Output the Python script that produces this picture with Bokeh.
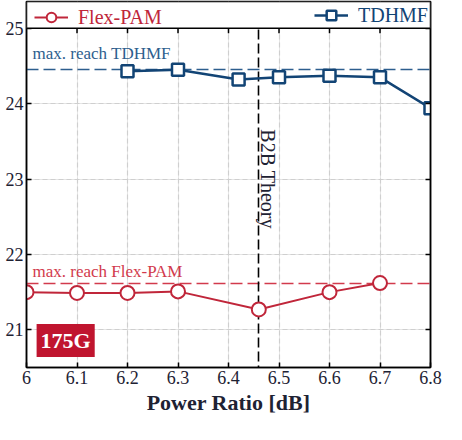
import math
from bokeh.plotting import figure
from bokeh.models import (Range1d, LinearAxis, FixedTicker, NumeralTickFormatter, Legend,
                          LegendItem, Label, Grid, BoxAnnotation)
from bokeh.embed import file_html
from bokeh.resources import INLINE

# ---------------- data ----------------
power_ratio_flex = [6.0, 6.1, 6.2, 6.3, 6.46, 6.6, 6.7]
reach_flex = [21.50, 21.49, 21.49, 21.51, 21.27, 21.50, 21.62]
power_ratio_tdhmf = [6.2, 6.3, 6.42, 6.5, 6.6, 6.7, 6.8]
reach_tdhmf = [24.43, 24.45, 24.32, 24.35, 24.37, 24.35, 23.94]
max_reach_flex = 21.62
max_reach_tdhmf = 24.46
b2b_theory = 6.46
series_names = ["Flex-PAM", "TDHMF"]
x_ticks = [6.0, 6.1, 6.2, 6.3, 6.4, 6.5, 6.6, 6.7, 6.8]
y_ticks = [21, 22, 23, 24, 25]
rate_label = "175G"

# ---------------- style ----------------
RED = "#c0263a"
RED_LIGHT = "#d23a4c"
BOX_RED = "#c0152f"
BLUE = "#124475"
BLUE_LIGHT = "#2d5e8e"
FONT = "Liberation Serif"
TXT = "#1e2233"
GRID = "#cfcfcf"

FW, FH = 404, 366
p = figure(frame_width=FW, frame_height=FH,
           x_range=Range1d(6.0, 6.8), y_range=Range1d(20.5, 25.356),
           output_backend="svg", toolbar_location=None,
           x_axis_location=None, y_axis_location=None,
           min_border_left=26, min_border_right=12, min_border_top=1, min_border_bottom=0,
           outline_line_color="black", outline_line_width=1.5,
           background_fill_color="white", border_fill_color="white")

def style_axis(ax, labels=True):
    ax.major_tick_in = 5
    ax.major_tick_out = 0
    ax.minor_tick_in = 0
    ax.minor_tick_out = 0
    ax.axis_line_color = "black"
    ax.axis_line_width = 1.5
    ax.major_tick_line_color = "black"
    ax.major_tick_line_width = 1.5
    ax.major_label_text_font = FONT
    ax.major_label_text_font_size = "18px"
    ax.major_label_text_color = TXT
    ax.major_label_standoff = 3 if labels else 0

xt = FixedTicker(ticks=x_ticks)
yt = FixedTicker(ticks=y_ticks)

bottom = LinearAxis(ticker=xt, formatter=NumeralTickFormatter(format="0.[0]"),
                    axis_label="Power Ratio [dB]")
style_axis(bottom)
bottom.axis_label_text_font = FONT
bottom.axis_label_text_font_size = "22px"
bottom.axis_label_text_font_style = "bold"
bottom.axis_label_text_color = TXT
bottom.axis_label_standoff = 3
p.add_layout(bottom, "below")

left = LinearAxis(ticker=yt)
style_axis(left)
p.add_layout(left, "left")

right = LinearAxis(ticker=yt, major_label_overrides={t: "" for t in y_ticks})
style_axis(right, labels=False)
p.add_layout(right, "right")

p.add_layout(Grid(dimension=0, ticker=xt, grid_line_color=GRID, grid_line_dash="5 3",
                  grid_line_width=1.2))
p.add_layout(Grid(dimension=1, ticker=yt, grid_line_color=GRID, grid_line_dash="5 3",
                  grid_line_width=1.2))

# reference lines
p.hspan(y=[max_reach_tdhmf], line_color=BLUE_LIGHT, line_width=1.6, line_dash="12 5")
p.hspan(y=[max_reach_flex], line_color=RED_LIGHT, line_width=1.6, line_dash="12 5")
p.vspan(x=[b2b_theory], line_color="black", line_width=1.6, line_dash="10 4")

# top ticks (lower half shows below the legend strip)
p.scatter(x=x_ticks[1:-1], y=[y_ticks[-1]] * (len(x_ticks) - 2), marker="dash",
          angle=math.pi / 2, size=10, line_color="black", line_width=1.5)

# data series
l_flex = p.line(power_ratio_flex, reach_flex, line_color=RED, line_width=2)
s_flex = p.scatter(power_ratio_flex, reach_flex, marker="circle", size=14,
                   fill_color="white", line_color=RED, line_width=2)
l_td = p.line(power_ratio_tdhmf, reach_tdhmf, line_color=BLUE, line_width=2.5)
s_td = p.scatter(power_ratio_tdhmf, reach_tdhmf, marker="square", size=12,
                 fill_color="white", line_color=BLUE, line_width=2.5)

# texts
p.add_layout(Label(x=6.0, y=max_reach_tdhmf, x_offset=6, y_offset=6, text="max. reach TDHMF",
                   text_font=FONT, text_font_size="17px", text_color=BLUE_LIGHT,
                   text_baseline="bottom"))
p.add_layout(Label(x=6.0, y=max_reach_flex, x_offset=6, y_offset=2, text="max. reach Flex-PAM",
                   text_font=FONT, text_font_size="17px", text_color=RED_LIGHT,
                   text_baseline="bottom"))
p.add_layout(Label(x=b2b_theory, y=23.0, x_offset=9, text="B2B Theory", angle=-math.pi / 2,
                   text_font=FONT, text_font_size="20px", text_color=TXT,
                   text_align="center", text_baseline="middle"))
p.add_layout(Label(x=6.02, y=20.64, text=rate_label, text_font=FONT, text_font_size="22px",
                   text_font_style="bold", text_color="white", text_baseline="bottom",
                   background_fill_color=BOX_RED, padding=4))

# legend strip
p.add_layout(BoxAnnotation(bottom=y_ticks[-1], fill_color="white", fill_alpha=1.0,
                           line_color="black", line_width=1.5, line_alpha=1.0))

leg_flex = Legend(items=[LegendItem(label=series_names[0], renderers=[l_flex, s_flex])],
                  location=(6, FH - 30), margin=0, padding=2,
                  border_line_alpha=0, background_fill_alpha=0,
                  label_text_font=FONT, label_text_font_size="20px", label_text_color=RED,
                  glyph_width=34, glyph_height=24, label_standoff=10)
leg_td = Legend(items=[LegendItem(label=series_names[1], renderers=[l_td, s_td])],
                location="top_right", margin=0, padding=2,
                border_line_alpha=0, background_fill_alpha=0,
                label_text_font=FONT, label_text_font_size="20px", label_text_color=BLUE,
                glyph_width=34, glyph_height=24, label_standoff=10)
p.add_layout(leg_flex)
p.add_layout(leg_td)

open("out.html", "w").write(file_html(p, INLINE))
